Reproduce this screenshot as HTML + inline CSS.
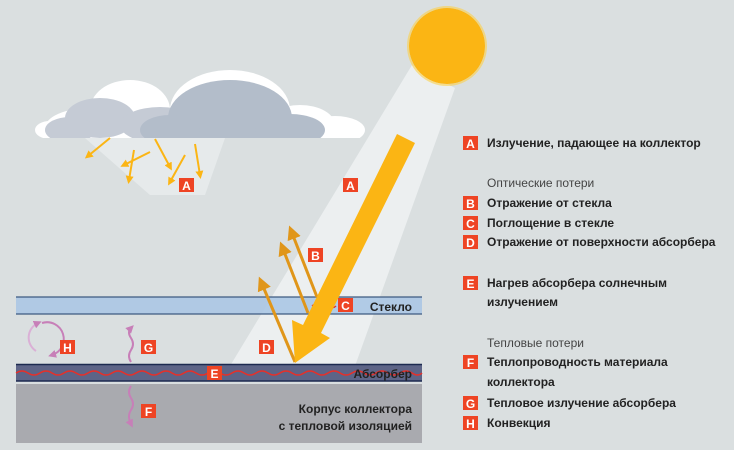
<!DOCTYPE html>
<html><head><meta charset="utf-8"><style>
html,body{margin:0;padding:0;background:#dadfe0;}
svg{display:block;font-family:"Liberation Sans",Arial,sans-serif;}
.b{font-weight:bold;font-size:12px;fill:#222;}
.n{font-size:12px;fill:#444;}
.l{fill:#fff;font-weight:bold;font-size:12px;}
</style></head><body>
<svg width="734" height="450" viewBox="0 0 734 450" xmlns="http://www.w3.org/2000/svg">
<defs>
<marker id="ah" markerWidth="8" markerHeight="8" refX="4" refY="4" orient="auto" markerUnits="userSpaceOnUse"><path d="M0,0 L8,4 L0,8 Z" fill="#fbb514"/></marker>
<marker id="ah2" markerWidth="14" markerHeight="14" refX="6" refY="7" orient="auto" markerUnits="userSpaceOnUse"><path d="M0,0 L14,7 L0,14 Z" fill="#e0961a"/></marker>
<marker id="ap" markerWidth="8" markerHeight="8" refX="4" refY="4" orient="auto" markerUnits="userSpaceOnUse"><path d="M0,0 L8,4 L0,8 Z" fill="#c77fb8"/></marker>
</defs>
<rect width="734" height="450" fill="#dadfe0"/>
<!-- cloud -->
<g fill="#fff">
<ellipse cx="90" cy="128" rx="45" ry="20"/><ellipse cx="130" cy="110" rx="40" ry="30"/>
<ellipse cx="230" cy="110" rx="60" ry="40"/><ellipse cx="300" cy="125" rx="35" ry="20"/>
<ellipse cx="335" cy="130" rx="30" ry="14"/><ellipse cx="50" cy="130" rx="15" ry="9"/>
</g>
<g fill="#c5cbd5">
<ellipse cx="100" cy="118" rx="35" ry="20"/><ellipse cx="70" cy="130" rx="25" ry="13"/><ellipse cx="160" cy="125" rx="40" ry="18"/>
</g>
<g fill="#b3bdca">
<ellipse cx="230" cy="118" rx="62" ry="38"/><ellipse cx="170" cy="130" rx="30" ry="15"/><ellipse cx="290" cy="130" rx="35" ry="16"/>
</g>
<rect x="0" y="138" width="420" height="40" fill="#dadfe0"/>
<!-- cloud light rays -->
<polygon points="85,138 225,138 205,195 150,195" fill="#e6eaeb"/>
<!-- beam -->
<polygon points="412,65 455,88 355,366 230,366" fill="#eceff0"/>
<!-- sun -->
<circle cx="447" cy="46" r="38" fill="#fbb514"/>
<circle cx="447" cy="46" r="39" fill="none" stroke="#fcd04a" stroke-width="2" opacity="0.6"/>
<g stroke="#fbb514" stroke-width="2" marker-end="url(#ah)">
<line x1="110" y1="138" x2="88" y2="156"/>
<line x1="150" y1="152" x2="124" y2="165"/>
<line x1="134" y1="150" x2="129" y2="180"/>
<line x1="155" y1="139" x2="170" y2="167"/>
<line x1="185" y1="155" x2="170" y2="182"/>
<line x1="195" y1="144" x2="200" y2="175"/>
</g>
<!-- layers -->
<rect x="16" y="297" width="406" height="17" fill="#abc7e4" opacity="0.9"/>
<line x1="16" y1="297" x2="422" y2="297" stroke="#3e5a80" stroke-width="1.2"/>
<line x1="16" y1="314" x2="422" y2="314" stroke="#3e5a80" stroke-width="1.2"/>
<rect x="16" y="364" width="406" height="17" fill="#5d6487"/>
<line x1="16" y1="364.5" x2="422" y2="364.5" stroke="#1d2a50" stroke-width="1.5"/>
<line x1="16" y1="381" x2="422" y2="381" stroke="#1d2a50" stroke-width="1.5"/>
<rect x="16" y="384" width="406" height="59" fill="#a9aaaf"/>
<path d="M16,373 q6,-4 12,0 t12,0 t12,0 t12,0 t12,0 t12,0 t12,0 t12,0 t12,0 t12,0 t12,0 t12,0 t12,0 t12,0 t12,0 t12,0 t12,0 t12,0 t12,0 t12,0 t12,0 t12,0 t12,0 t12,0 t12,0 t12,0 t12,0 t12,0 t12,0 t12,0 t12,0 t12,0 t12,0 t10,0" fill="none" stroke="#e5302a" stroke-width="1.5"/>
<path d="M312,306 q3,-3 6,0 t6,0 t6,0 t6,0" fill="none" stroke="#e5302a" stroke-width="1.3"/>
<!-- orange arrows -->
<g stroke="#e0961a" stroke-width="3" marker-end="url(#ah2)">
<line x1="317" y1="297" x2="292" y2="233"/>
<line x1="308" y1="313" x2="283" y2="249"/>
<line x1="295" y1="362" x2="262" y2="284"/>
</g>
<polygon points="397,134 415,143 321,333 330,338 295,363 292,320 303,325" fill="#fbb514"/>
<!-- purple -->
<g fill="none" stroke="#c77fb8" stroke-width="2">
<path d="M131,362 q-4,-6 0,-12 t0,-12 t0,-10" marker-end="url(#ap)"/>
<path d="M131,386 q-4,6 0,12 t0,12 t0,14" marker-end="url(#ap)"/>
<path d="M42,323 a16,16 0 0 1 10,32" marker-end="url(#ap)"/>
<path d="M36,351 a16,16 0 0 1 2,-28" stroke="#dab0d6" marker-end="url(#ap)"/>
</g>
<!-- labels -->
<g fill="#ee4424">
<rect x="179" y="178" width="15" height="14"/><rect x="343" y="178" width="15" height="14"/>
<rect x="308" y="248" width="15" height="14"/><rect x="338" y="298" width="15" height="14"/>
<rect x="259" y="340" width="15" height="14"/><rect x="207" y="366" width="15" height="14"/>
<rect x="60" y="340" width="15" height="14"/><rect x="141" y="340" width="15" height="14"/>
<rect x="141" y="404" width="15" height="14"/>
</g>
<g class="l" text-anchor="middle">
<text x="186.5" y="190">A</text><text x="350.5" y="190">A</text><text x="315.5" y="260">B</text>
<text x="345.5" y="310">C</text><text x="266.5" y="352">D</text><text x="214.5" y="378">E</text>
<text x="67.5" y="352">H</text><text x="148.5" y="352">G</text><text x="148.5" y="416">F</text>
</g>
<g class="b" text-anchor="end">
<text x="412" y="311">Стекло</text>
<text x="412" y="378">Абсорбер</text>
<text x="412" y="413">Корпус коллектора</text>
<text x="412" y="430">с тепловой изоляцией</text>
</g>
<!-- legend -->
<g fill="#ee4424">
<rect x="463" y="136" width="15" height="14"/><rect x="463" y="196" width="15" height="14"/>
<rect x="463" y="216" width="15" height="14"/><rect x="463" y="235" width="15" height="14"/>
<rect x="463" y="276" width="15" height="14"/><rect x="463" y="355" width="15" height="14"/>
<rect x="463" y="396" width="15" height="14"/><rect x="463" y="416" width="15" height="14"/>
</g>
<g class="l" text-anchor="middle">
<text x="470.5" y="148">A</text><text x="470.5" y="208">B</text><text x="470.5" y="228">C</text>
<text x="470.5" y="247">D</text><text x="470.5" y="288">E</text><text x="470.5" y="367">F</text>
<text x="470.5" y="408">G</text><text x="470.5" y="428">H</text>
</g>
<g class="b">
<text x="487" y="147">Излучение, падающее на коллектор</text>
<text x="487" y="207">Отражение от стекла</text>
<text x="487" y="227">Поглощение в стекле</text>
<text x="487" y="246">Отражение от поверхности абсорбера</text>
<text x="487" y="287">Нагрев абсорбера солнечным</text>
<text x="487" y="306">излучением</text>
<text x="487" y="366">Теплопроводность материала</text>
<text x="487" y="386">коллектора</text>
<text x="487" y="407">Тепловое излучение абсорбера</text>
<text x="487" y="427">Конвекция</text>
</g>
<g class="n">
<text x="487" y="187">Оптические потери</text>
<text x="487" y="347">Тепловые потери</text>
</g>
</svg>
</body></html>
